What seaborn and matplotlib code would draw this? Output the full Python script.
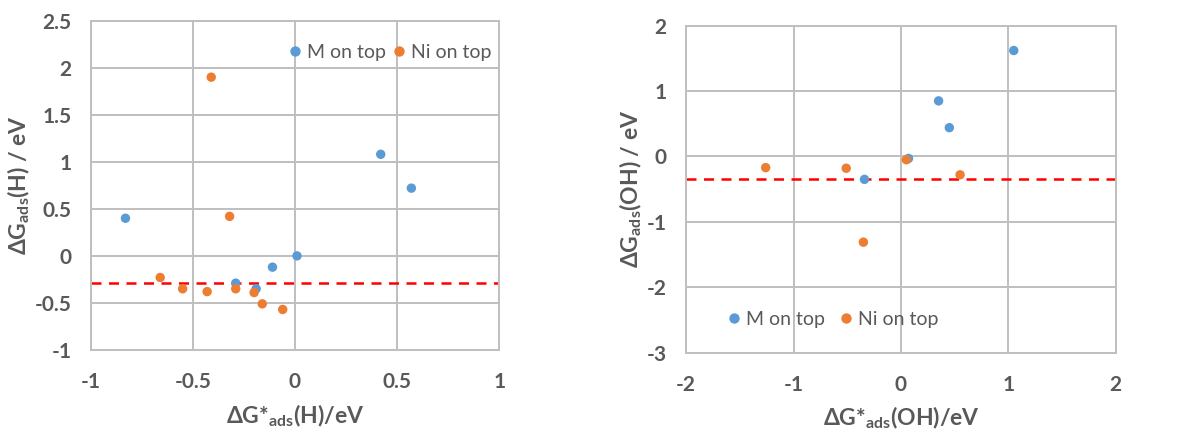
import numpy as np
import pandas as pd
import matplotlib
matplotlib.use("Agg")
import matplotlib.pyplot as plt
import seaborn as sns

# --- data ---
h_m_x = [-0.83, 0.42, 0.57, 0.01, -0.11, -0.29, -0.19]
h_m_y = [0.40, 1.08, 0.72, 0.00, -0.12, -0.29, -0.35]
h_ni_x = [-0.41, -0.32, -0.66, -0.55, -0.43, -0.29, -0.20, -0.16, -0.06]
h_ni_y = [1.90, 0.42, -0.23, -0.35, -0.38, -0.35, -0.39, -0.51, -0.57]
h_ref = -0.29

oh_m_x = [1.05, 0.35, 0.45, 0.07, -0.34]
oh_m_y = [1.62, 0.85, 0.44, -0.03, -0.35]
oh_ni_x = [-1.26, -0.51, 0.05, 0.55, -0.35]
oh_ni_y = [-0.17, -0.18, -0.05, -0.28, -1.31]
oh_ref = -0.35

series_names = ["M on top", "Ni on top"]
colors = {"M on top": "#5B9BD5", "Ni on top": "#ED7D31"}

h_df = pd.DataFrame({
    "x": h_m_x + h_ni_x,
    "y": h_m_y + h_ni_y,
    "site": [series_names[0]] * len(h_m_x) + [series_names[1]] * len(h_ni_x),
})
oh_df = pd.DataFrame({
    "x": oh_m_x + oh_ni_x,
    "y": oh_m_y + oh_ni_y,
    "site": [series_names[0]] * len(oh_m_x) + [series_names[1]] * len(oh_ni_x),
})

sns.set_theme(style="white")
plt.rcParams["font.family"] = ["Lato", "DejaVu Sans"]
plt.rcParams["mathtext.fontset"] = "custom"
plt.rcParams["mathtext.rm"] = "Lato"
plt.rcParams["mathtext.bf"] = "Lato:bold"

txt = "#595959"
grid_c = "#BFBFBF"

fig = plt.figure(figsize=(11.77, 4.32), dpi=100)
ax1 = fig.add_axes([0.0771, 0.190, 0.347, 0.762])
ax2 = fig.add_axes([0.583, 0.1836, 0.365, 0.757])


def style(ax, xlim, ylim, xticks, yticks, xlabel, ylabel):
    ax.set_xlim(*xlim)
    ax.set_ylim(*ylim)
    ax.set_xticks(xticks)
    ax.set_yticks(yticks)
    ax.set_xticklabels([f"{t:g}" for t in xticks])
    ax.set_yticklabels([f"{t:g}" for t in yticks])
    ax.grid(True, color=grid_c, linewidth=1.4)
    ax.set_axisbelow(True)
    for s in ax.spines.values():
        s.set_color(grid_c)
        s.set_linewidth(1.4)
    ax.tick_params(axis="x", length=0, labelsize=15, labelcolor=txt, pad=16)
    ax.tick_params(axis="y", length=0, labelsize=15, labelcolor=txt, pad=14)
    for lab in ax.get_xticklabels() + ax.get_yticklabels():
        lab.set_fontweight("bold")
    ax.set_xlabel(xlabel, fontsize=16.5, fontweight="bold", color=txt, labelpad=7)
    ax.set_ylabel(ylabel, fontsize=16.5, fontweight="bold", color=txt, labelpad=2)


# --- H panel ---
sns.scatterplot(data=h_df, x="x", y="y", hue="site", palette=colors, s=46,
                linewidth=0, ax=ax1, zorder=3)
ax1.axhline(h_ref, color="#FF0000", linestyle=(0, (4, 3)), linewidth=1.8, zorder=2)
style(ax1, (-1, 1), (-1, 2.5), [-1, -0.5, 0, 0.5, 1], np.arange(-1, 2.6, 0.5),
      r"ΔG*$_{\mathbf{ads}}$(H)/eV", r"ΔG$_{\mathbf{ads}}$(H) / eV")
ax1.legend(loc="center left", bbox_to_anchor=(0.448, 0.903), ncol=2, frameon=False,
           fontsize=14, labelcolor=txt, handletextpad=0.0, columnspacing=0.1,
           borderpad=0, markerscale=1.1, handlelength=1.2)

# --- OH panel ---
sns.scatterplot(data=oh_df, x="x", y="y", hue="site", palette=colors, s=46,
                linewidth=0, ax=ax2, zorder=3)
ax2.axhline(oh_ref, color="#FF0000", linestyle=(0, (4, 3)), linewidth=1.8, zorder=2)
style(ax2, (-2, 2), (-3, 2), [-2, -1, 0, 1, 2], [-3, -2, -1, 0, 1, 2],
      r"ΔG*$_{\mathbf{ads}}$(OH)/eV", r"ΔG$_{\mathbf{ads}}$(OH) / eV")
ax2.legend(loc="center left", bbox_to_anchor=(0.062, 0.103), ncol=2, frameon=False,
           fontsize=14, labelcolor=txt, handletextpad=0.0, columnspacing=0.5,
           borderpad=0, markerscale=1.1, handlelength=1.2)

fig.savefig("out.png", dpi=100)
